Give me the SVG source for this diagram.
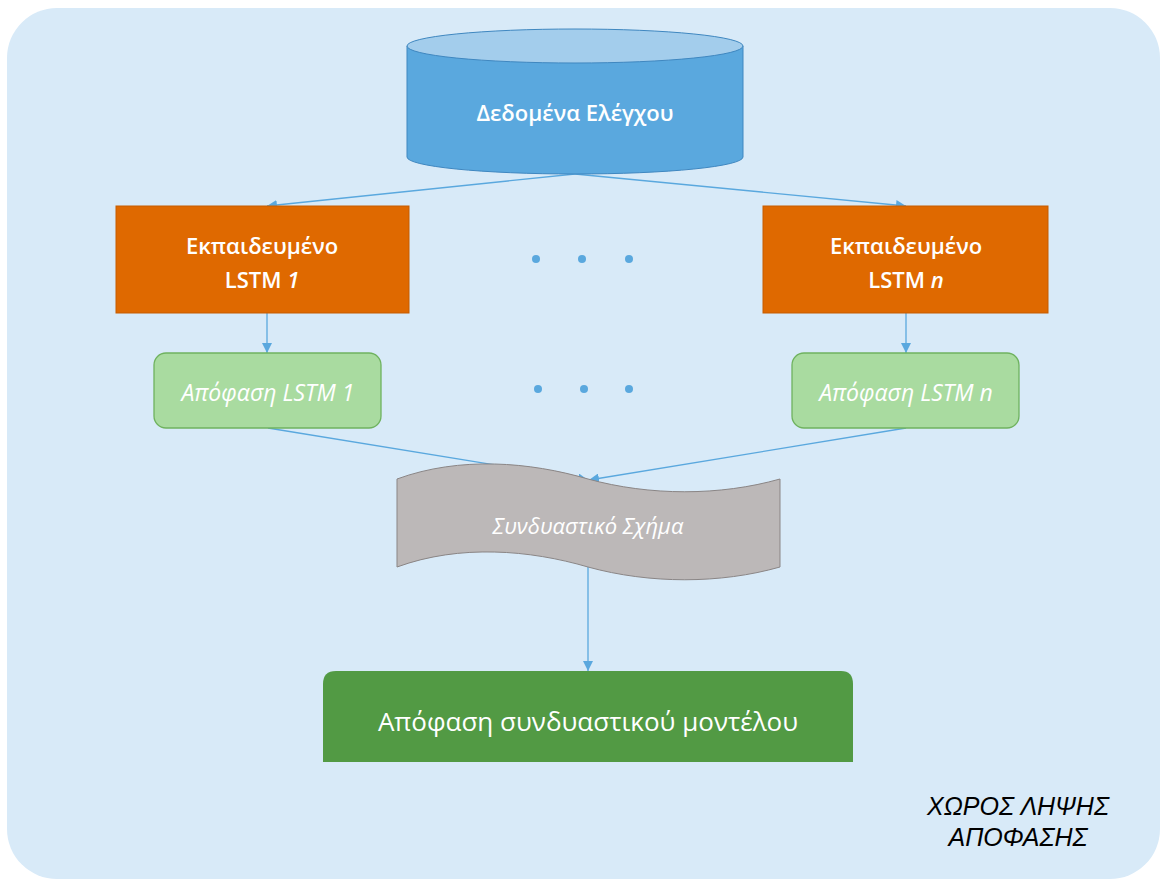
<svg xmlns="http://www.w3.org/2000/svg" width="1161" height="879" viewBox="0 0 1161 879">
<defs>
<marker id="ah" viewBox="0 0 10 10" refX="10" refY="5" markerWidth="10" markerHeight="10" markerUnits="userSpaceOnUse" orient="auto">
<path d="M0,0 L10,5 L0,10 z" fill="#5aa8de"/>
</marker>
<style>
.t{font-family:"Open Sans","Noto Sans","DejaVu Sans",sans-serif;fill:#fff;text-anchor:middle;font-weight:600}
.r{font-weight:400}
.c{stroke:#5aa8de;stroke-width:1.3;fill:none;marker-end:url(#ah)}
.dot{fill:#5aa8de}
</style>
</defs>
<rect x="7" y="8" width="1153" height="871" rx="50" fill="#d8eaf8"/>
<g id="connectors">
<line class="c" x1="575" y1="174" x2="267" y2="206"/>
<line class="c" x1="575" y1="174" x2="906" y2="206"/>
<line class="c" x1="267" y1="313" x2="267" y2="353"/>
<line class="c" x1="906" y1="313" x2="906" y2="353"/>
<line class="c" x1="268" y1="428" x2="588" y2="480"/>
<line class="c" x1="906" y1="428" x2="589" y2="480"/>
<line class="c" x1="588" y1="567" x2="588" y2="671"/>
</g>
<g id="db">
<path d="M407,46 L407,157 A168,17 0 0 0 743,157 L743,46 Z" fill="#5aa8de" stroke="#3f87c0" stroke-width="1"/>
<ellipse cx="575" cy="46" rx="168" ry="17" fill="#a3cdec" stroke="#3f87c0" stroke-width="1"/>
<text class="t" x="575" y="121" font-size="22">Δεδομένα Ελέγχου</text>
</g>
<g id="lstm1">
<rect x="116" y="206" width="293" height="107" fill="#df6900" stroke="#c55d00" stroke-width="1"/>
<text class="t" x="262" y="254" font-size="22">Εκπαιδευμένο</text>
<text class="t" x="262" y="288" font-size="22">LSTM <tspan font-style="italic">1</tspan></text>
</g>
<g id="lstmn">
<rect x="763" y="206" width="285" height="107" fill="#df6900" stroke="#c55d00" stroke-width="1"/>
<text class="t" x="906" y="254" font-size="22">Εκπαιδευμένο</text>
<text class="t" x="906" y="288" font-size="22">LSTM <tspan font-style="italic">n</tspan></text>
</g>
<g id="dots">
<circle class="dot" cx="536" cy="259" r="4"/>
<circle class="dot" cx="582" cy="259" r="4"/>
<circle class="dot" cx="629" cy="259" r="4"/>
<circle class="dot" cx="538" cy="389" r="4"/>
<circle class="dot" cx="584" cy="389" r="4"/>
<circle class="dot" cx="629" cy="389" r="4"/>
</g>
<g id="dec1">
<rect x="154" y="353" width="227" height="75" rx="12" fill="#a9dba0" stroke="#6fb25f" stroke-width="1.3"/>
<text class="t r" x="268" y="401" font-size="23" font-style="italic">Απόφαση LSTM 1</text>
</g>
<g id="decn">
<rect x="792" y="353" width="227" height="75" rx="12" fill="#a9dba0" stroke="#6fb25f" stroke-width="1.3"/>
<text class="t r" x="906" y="401" font-size="23" font-style="italic">Απόφαση LSTM n</text>
</g>
<g id="combo">
<path d="M397,479 C460,456 530,462 588,479 C650,496 720,496 780,479 L780,567 C720,584 650,584 588,567 C530,550 460,544 397,567 Z" fill="#bcb8b8" stroke="#8a8585" stroke-width="1"/>
<text class="t r" x="588" y="534" font-size="22" font-style="italic">Συνδυαστικό Σχήμα</text>
</g>
<g id="final">
<path d="M323,762 L323,684 Q323,671 336,671 L841,671 Q853,671 853,684 L853,762 Z" fill="#529a44"/>
<text class="t r" x="588" y="731" font-size="26">Απόφαση συνδυαστικού μοντέλου</text>
</g>
<g id="label">
<text x="1018" y="815" font-family="Liberation Sans,Arial,sans-serif" font-size="25" font-style="italic" text-anchor="middle" fill="#000">ΧΩΡΟΣ ΛΗΨΗΣ</text>
<text x="1018" y="846" font-family="Liberation Sans,Arial,sans-serif" font-size="25" font-style="italic" text-anchor="middle" fill="#000">ΑΠΟΦΑΣΗΣ</text>
</g>
</svg>
